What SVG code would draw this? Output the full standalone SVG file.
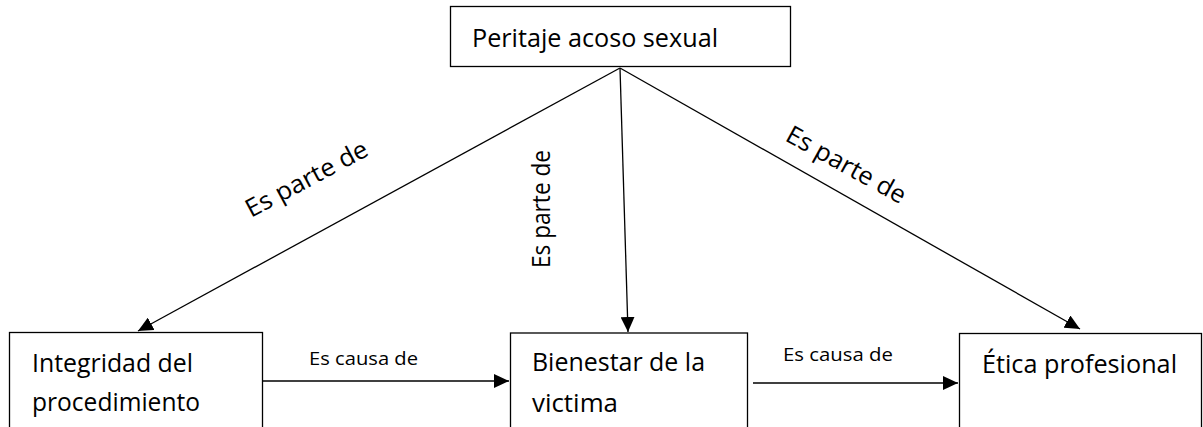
<svg xmlns="http://www.w3.org/2000/svg" width="1203" height="427" viewBox="0 0 1203 427">
<style>
.box{fill:#fff;stroke:#000;stroke-width:1.3}
.t{font-family:"Open Sans","Noto Sans",sans-serif;font-size:25px;fill:#000}
.e{font-family:"Open Sans","Noto Sans",sans-serif;font-size:18.5px;fill:#000}
.c{stroke:#000;stroke-width:1.3;fill:none;marker-end:url(#arr)}
</style>
<defs>
<marker id="arr" markerUnits="userSpaceOnUse" markerWidth="16" markerHeight="14" refX="15" refY="7" orient="auto">
<path d="M0,0 L15,7 L0,14 z" fill="#000"/>
</marker>
</defs>
<rect width="1203" height="427" fill="#fff"/>
<g id="connectors">
<line class="c" x1="620" y1="68" x2="138" y2="331"/>
<line class="c" x1="620" y1="68" x2="628" y2="332"/>
<line class="c" x1="620" y1="68" x2="1080" y2="329"/>
<line class="c" x1="262" y1="381" x2="509" y2="381"/>
<line class="c" x1="753" y1="383" x2="958" y2="383"/>
<text class="t" transform="translate(251,218) rotate(-28)" textLength="135" lengthAdjust="spacingAndGlyphs">Es parte de</text>
<text class="t" transform="translate(550,268) rotate(-90)" textLength="118" lengthAdjust="spacingAndGlyphs">Es parte de</text>
<text class="t" transform="translate(784,140) rotate(29)" textLength="133" lengthAdjust="spacingAndGlyphs">Es parte de</text>
<text class="e" x="309" y="365" textLength="109" lengthAdjust="spacingAndGlyphs">Es causa de</text>
<text class="e" x="783" y="361" textLength="110" lengthAdjust="spacingAndGlyphs">Es causa de</text>
</g>
<g id="peritaje">
<rect class="box" x="450.5" y="6.5" width="340" height="60"/>
<text class="t" x="472" y="47" textLength="246" lengthAdjust="spacingAndGlyphs">Peritaje acoso sexual</text>
</g>
<g id="integridad">
<rect class="box" x="9.5" y="332.5" width="253" height="110"/>
<text class="t" x="32" y="372" textLength="161" lengthAdjust="spacingAndGlyphs">Integridad del</text>
<text class="t" x="32" y="411" textLength="168" lengthAdjust="spacingAndGlyphs">procedimiento</text>
</g>
<g id="bienestar">
<rect class="box" x="510.5" y="333" width="237" height="110"/>
<text class="t" x="532" y="371" textLength="173" lengthAdjust="spacingAndGlyphs">Bienestar de la</text>
<text class="t" x="532" y="412" textLength="86" lengthAdjust="spacingAndGlyphs">victima</text>
</g>
<g id="etica">
<rect class="box" x="959.5" y="333.5" width="242" height="110"/>
<text class="t" x="982" y="373" textLength="195" lengthAdjust="spacingAndGlyphs">Ética profesional</text>
</g>
</svg>
